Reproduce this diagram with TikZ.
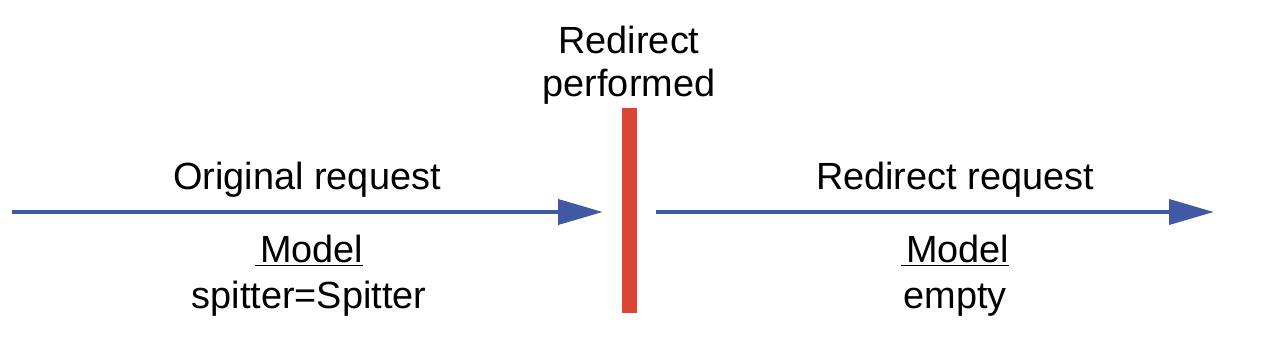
\documentclass[tikz,border=0pt]{standalone}
\usepackage{fontspec}
\setmainfont{Liberation Sans}
\usetikzlibrary{arrows.meta}
\definecolor{arrowblue}{HTML}{4058A6}
\definecolor{barred}{HTML}{DC4533}
\begin{document}
\begin{tikzpicture}[x=0.75pt,y=-0.75pt,
  lbl/.style={font=\fontsize{28.4pt}{34pt}\selectfont, inner sep=0pt, anchor=base},
  flow/.style={draw=arrowblue, line width=3.6pt, -{Triangle[length=33.75pt,width=18.5pt]}},
  barline/.style={draw=barred, line width=11.25pt}]
\useasboundingbox (0,0) rectangle (1276,352);
% red separator bar
\coordinate (btop) at (629,108);
\coordinate (bbot) at (629,313);
\draw[barline] (btop) -- (bbot);
% arrows
\coordinate (l1) at (12,212);
\coordinate (l2) at (603,212);
\coordinate (r1) at (656,212);
\coordinate (r2) at (1214,212);
\draw[flow] (l1) -- (l2);
\draw[flow] (r1) -- (r2);
% labels
\node[lbl] (rd1) at (629,54) {Redirect};
\node[lbl] (rd2) at (629,97) {performed};
\node[lbl] (orig) at (307,190) {Original request};
\node[lbl] (m1) at (309,263) {\underline{\kern4pt Model}};
\node[lbl] (v1) at (309,308) {spitter=Spitter};
\node[lbl] (redir) at (955,190) {Redirect request};
\node[lbl] (m2) at (955,263) {\underline{\kern4pt Model}};
\node[lbl] (v2) at (955,308) {empty};
\end{tikzpicture}
\end{document}
